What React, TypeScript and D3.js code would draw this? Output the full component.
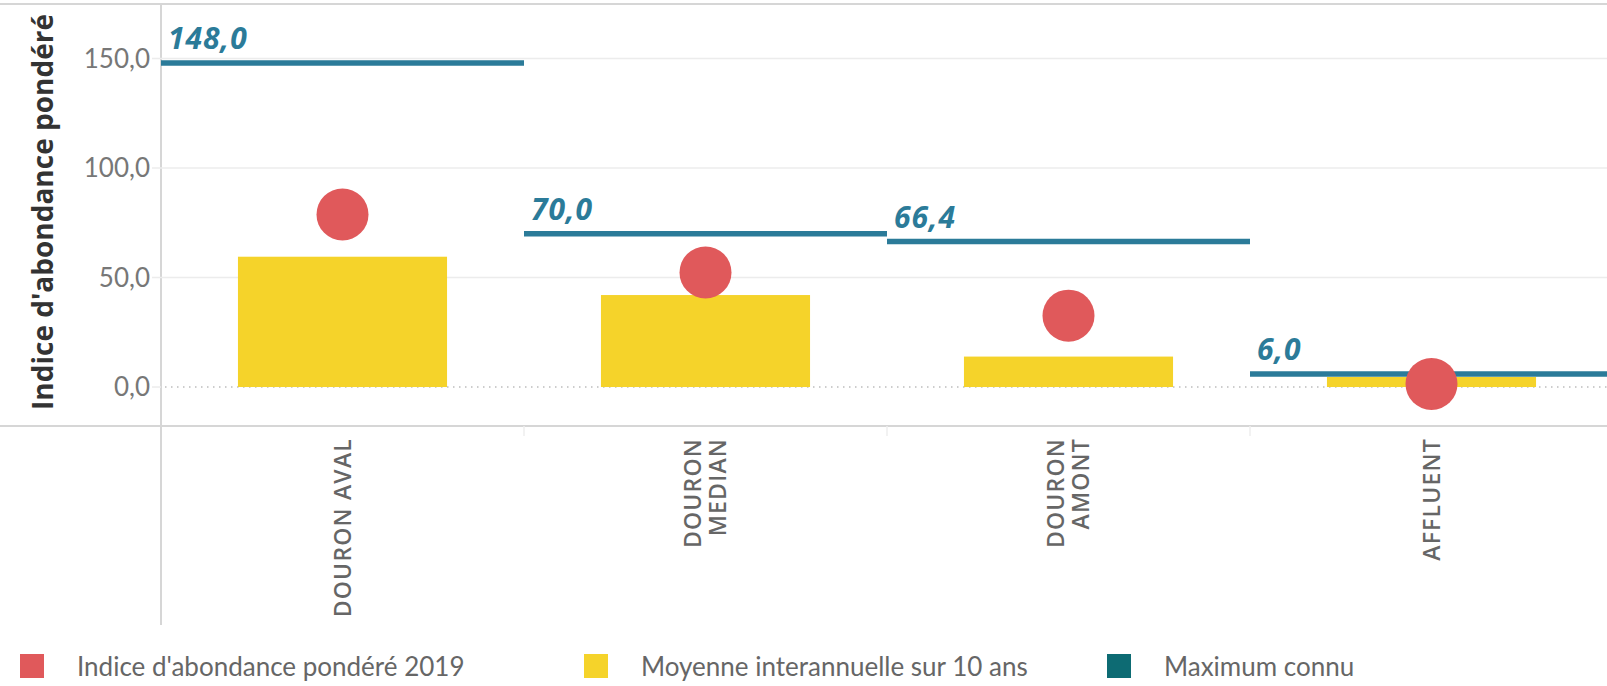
import React from 'react';
import * as d3 from 'd3';

// data
const categories = ["DOURON AVAL", "DOURON MEDIAN", "DOURON AMONT", "AFFLUENT"];
const categoryLines = [["DOURON AVAL"], ["DOURON", "MEDIAN"], ["DOURON", "AMONT"], ["AFFLUENT"]];
const indice2019 = [78.8, 52.3, 32.6, 1.4];
const moyenne10 = [59.5, 42.0, 13.9, 4.6];
const maximumConnu = [148.0, 70.0, 66.4, 6.0];
const yTicks = [0, 50, 100, 150];
const legendItems = [
  { label: "Indice d'abondance pondéré 2019", color: "#e0595b", x: 20 },
  { label: "Moyenne interannuelle sur 10 ans", color: "#f5d32a", x: 584 },
  { label: "Maximum connu", color: "#0d6b73", x: 1107 },
];

const width = 1607;
const height = 686;
const plotLeft = 161;
const plotRight = 1613;
const plotTop = 4;
const plotBottom = 426;

const RED = "#e0595b";
const YELLOW = "#f5d32a";
const BLUE = "#2b7b99";

const fr = d3.formatLocale({ decimal: ",", thousands: " ", grouping: [3], currency: ["", " €"] });
const fmt = fr.format(".1f");

const App: React.FC = () => {
  const x = d3.scaleBand<string>().domain(categories).range([plotLeft, plotRight]);
  const xBar = d3.scaleBand<string>().domain(categories).range([plotLeft, plotRight])
    .paddingInner(0.424).paddingOuter(0.212);
  const y = d3.scaleLinear().domain([-17.8, 174.9]).range([plotBottom, plotTop]);

  return (
    <div style={{ position: 'absolute', left: 0, top: 0 }}>
      <svg width={width} height={height} style={{ display: 'block', background: '#fff' }}>
        {/* frame */}
        <line x1={0} x2={width} y1={plotTop} y2={plotTop} stroke="#d6d6d6" strokeWidth={2} />
        <line x1={0} x2={width} y1={plotBottom} y2={plotBottom} stroke="#d6d6d6" strokeWidth={2} />
        <line x1={plotLeft} x2={plotLeft} y1={plotTop} y2={625} stroke="#d6d6d6" strokeWidth={2} />

        {/* grid */}
        {yTicks.filter(t => t !== 0).map(t => (
          <line key={t} x1={152} x2={width} y1={y(t)} y2={y(t)} stroke="#ececec" strokeWidth={1.5} />
        ))}
        <line x1={152} x2={plotLeft} y1={y(0)} y2={y(0)} stroke="#ececec" strokeWidth={1.5} />
        <line x1={plotLeft + 4} x2={width} y1={y(0)} y2={y(0)} stroke="#bdbdbd" strokeWidth={1.5} strokeDasharray="1.5,4.5" />

        {/* y tick labels */}
        {yTicks.map(t => (
          <text key={t} x={150} y={y(t)} dy="0.35em" textAnchor="end" fontFamily="Lato" fontSize={26} fill="#777">
            {fmt(t)}
          </text>
        ))}

        {/* y title */}
        <text transform={`translate(43,212) rotate(-90)`} textAnchor="middle" dy="0.35em"
          fontFamily="'Open Sans'" fontWeight={700} fontSize={28} fill="#333">
          Indice d'abondance pondéré
        </text>

        {/* category boundary ticks */}
        {categories.slice(1).map(c => (
          <line key={c} x1={x(c)!} x2={x(c)!} y1={plotBottom} y2={plotBottom + 10} stroke="#eeeeee" strokeWidth={1.5} />
        ))}

        {/* bars */}
        {categories.map((c, i) => (
          <rect key={c} x={xBar(c)!} width={xBar.bandwidth()} y={y(moyenne10[i])}
            height={y(0) - y(moyenne10[i])} fill={YELLOW} />
        ))}

        {/* maximum lines */}
        {categories.map((c, i) => (
          <g key={c}>
            <line x1={x(c)!} x2={x(c)! + x.bandwidth()} y1={y(maximumConnu[i])} y2={y(maximumConnu[i])}
              stroke={BLUE} strokeWidth={5.5} />
            <text x={x(c)! + 7} y={y(maximumConnu[i]) - 14} fontFamily="'Open Sans'" fontWeight={700}
              fontStyle="italic" fontSize={30} letterSpacing={1} fill={BLUE}>
              {fmt(maximumConnu[i])}
            </text>
          </g>
        ))}

        {/* 2019 dots */}
        {categories.map((c, i) => (
          <circle key={c} cx={x(c)! + x.bandwidth() / 2} cy={y(indice2019[i])} r={26} fill={RED} />
        ))}

        {/* category labels */}
        {categories.map((c, i) => {
          const lines = categoryLines[i];
          const first = -((lines.length - 1) * 1.05) / 2 + 0.35;
          return (
            <text key={c} transform={`translate(${x(c)! + x.bandwidth() / 2},438) rotate(-90)`}
              textAnchor="end" fontFamily="'Open Sans'" fontWeight={600} fontSize={23} letterSpacing={1.2} fill="#666">
              {lines.map((l, j) => (
                <tspan key={j} x={0} dy={j === 0 ? `${first}em` : '1.05em'}>{l}</tspan>
              ))}
            </text>
          );
        })}

        {/* legend */}
        {legendItems.map(item => (
          <g key={item.label}>
            <rect x={item.x} y={654} width={24} height={24} fill={item.color} />
            <text x={item.x + 57} y={676} fontFamily="Lato" fontSize={26} fill="#666">{item.label}</text>
          </g>
        ))}
      </svg>
    </div>
  );
};

export default App;
